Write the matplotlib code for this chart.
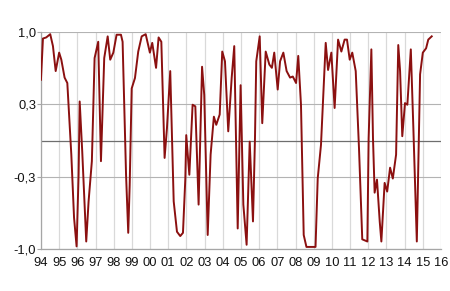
import matplotlib.pyplot as plt
import numpy as np

plt.rcParams['font.family'] = ['Liberation Sans', 'DejaVu Sans']

# Valores (año decimal, valor)
annees = [1994.0, 1994.11, 1994.29, 1994.51, 1994.66, 1994.81, 1995.0, 1995.12, 1995.3, 1995.45,
          1995.67, 1995.82, 1995.96, 1996.07, 1996.13, 1996.27, 1996.49, 1996.62, 1996.8, 1996.95,
          1997.15, 1997.3, 1997.48, 1997.67, 1997.81, 1997.98, 1998.16, 1998.4, 1998.49, 1998.68,
          1998.8, 1998.88, 1998.99, 1999.17, 1999.35, 1999.54, 1999.76, 1999.99, 2000.12, 2000.33,
          2000.47, 2000.62, 2000.8, 2000.93, 2001.11, 2001.3, 2001.48, 2001.66, 2001.81, 2001.94,
          2001.99, 2002.16, 2002.34, 2002.49, 2002.67, 2002.86, 2002.98, 2003.17, 2003.33, 2003.51,
          2003.64, 2003.83, 2003.97, 2004.12, 2004.3, 2004.49, 2004.63, 2004.82, 2004.98, 2005.13,
          2005.31, 2005.48, 2005.66, 2005.77, 2005.84, 2006.03, 2006.17, 2006.36, 2006.56, 2006.7,
          2006.83, 2007.02, 2007.15, 2007.33, 2007.51, 2007.7, 2007.85, 2008.03, 2008.15, 2008.3,
          2008.45, 2008.6, 2009.1, 2009.22, 2009.4, 2009.66, 2009.79, 2009.97, 2010.15, 2010.34,
          2010.52, 2010.7, 2010.83, 2010.98, 2011.12, 2011.31, 2011.49, 2011.67, 2011.95, 2012.02,
          2012.17, 2012.26, 2012.35, 2012.48, 2012.63, 2012.72, 2012.9, 2013.04, 2013.2, 2013.35,
          2013.53, 2013.65, 2013.75, 2013.87, 2014.02, 2014.15, 2014.34, 2014.48, 2014.67, 2014.85,
          2015.0, 2015.18, 2015.3, 2015.49]
valeurs = [0.56, 0.94, 0.95, 0.98, 0.87, 0.64, 0.81, 0.745, 0.58, 0.53,
           -0.13, -0.71, -0.975, -0.315, 0.36, -0.10, -0.93, -0.56, -0.19, 0.76,
           0.91, -0.19, 0.76, 0.96, 0.745, 0.81, 0.975, 0.975, 0.91, -0.315,
           -0.85, -0.41, 0.48, 0.576, 0.82, 0.96, 0.98, 0.81, 0.90, 0.67,
           0.95, 0.91, -0.16, 0.115, 0.64, -0.56, -0.84, -0.88, -0.85, -0.35,
           0.05, -0.315, 0.33, 0.315, -0.59, 0.68, 0.42, -0.87, -0.13, 0.22,
           0.145, 0.24, 0.82, 0.73, 0.085, 0.58, 0.87, -0.81, 0.51, -0.59,
           -0.96, -0.01, -0.745, 0.02, 0.73, 0.96, 0.16, 0.82, 0.70, 0.67,
           0.81, 0.47, 0.73, 0.81, 0.64, 0.58, 0.59, 0.53, 0.78, 0.33,
           -0.87, -0.98, -0.98, -0.35, -0.04, 0.90, 0.65, 0.81, 0.30, 0.93,
           0.82, 0.93, 0.93, 0.745, 0.81, 0.64, -0.07, -0.91, -0.93, 0.02,
           0.84, 0.02, -0.48, -0.36, -0.745, -0.93, -0.39, -0.47, -0.25, -0.35,
           -0.13, 0.88, 0.64, 0.04, 0.345, 0.33, 0.84, 0.115, -0.93, 0.61,
           0.81, 0.85, 0.93, 0.96]

annees_ticks = list(range(1994, 2017))
labels_x = [str(a)[-2:] for a in annees_ticks]
ticks_y = [-1.0, -1/3, 1/3, 1.0]
labels_y = ['-1,0', '-0,3', '0,3', '1,0']

fig = plt.figure(figsize=(4.5, 2.91), dpi=100)
ax = fig.add_axes([0.091, 0.144, 0.889, 0.746])

ax.plot(annees, valeurs, color='#8b1010', linewidth=1.4, zorder=3)
ax.axhline(0, color='#6e6e6e', linewidth=0.9, zorder=2)

ax.set_xlim(1994, 2016)
ax.set_ylim(-1, 1)
ax.set_xticks(annees_ticks)
ax.set_xticklabels(labels_x, fontsize=9.3)
ax.set_yticks(ticks_y)
ax.set_yticklabels(labels_y, fontsize=9.3)

ax.grid(True, axis='x', color='#d9d9d9', linewidth=0.9)
ax.grid(True, axis='y', color='#b3b3b3', linewidth=0.8)
ax.set_axisbelow(True)

for s in ['top', 'right']:
    ax.spines[s].set_visible(False)
for s in ['left', 'bottom']:
    ax.spines[s].set_color('#a6a6a6')
    ax.spines[s].set_linewidth(0.9)

ax.tick_params(axis='y', length=3, color='#a6a6a6', pad=0.5, labelcolor='#111111')
ax.tick_params(axis='x', length=0, pad=6, labelcolor='#111111')

plt.savefig('out.png', dpi=100)
